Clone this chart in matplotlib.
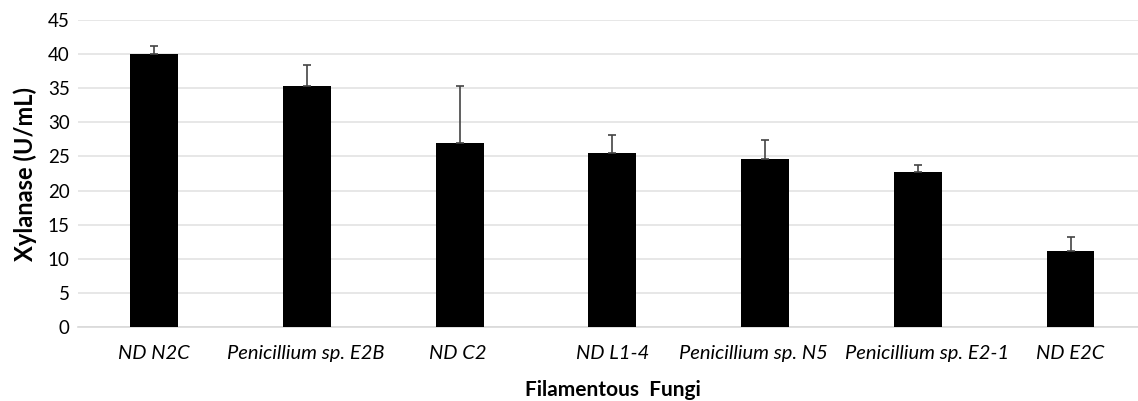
import matplotlib.pyplot as plt
from matplotlib.transforms import ScaledTranslation

fungi = ['ND N2C', 'Penicillium sp. E2B', 'ND C2', 'ND L1-4',
         'Penicillium sp. N5', 'Penicillium sp. E2-1', 'ND E2C']
xylanase = [40.0, 35.4, 27.0, 25.5, 24.6, 22.7, 11.2]
sd = [1.2, 3.0, 8.4, 2.6, 2.8, 1.0, 2.0]
yticks = [0, 5, 10, 15, 20, 25, 30, 35, 40, 45]

plt.rcParams['font.family'] = ['Lato', 'DejaVu Sans']

fig = plt.figure(figsize=(11.38, 4.01), dpi=100)
ax = fig.add_axes([0.0685, 0.1845, 0.9393, 0.7655])

x = list(range(len(fungi)))
ax.bar(x, xylanase, width=0.314, color='black', zorder=3)
ax.errorbar(x, xylanase, yerr=[[0] * len(sd), sd], fmt='none',
            ecolor='#444444', elinewidth=1.2, capsize=3, capthick=1.2, zorder=4)

ax.set_xlim(-0.5, len(fungi) - 0.5)
ax.set_ylim(0, 45)
ax.set_yticks(yticks)
ax.tick_params(axis='y', labelsize=13.5, length=0, pad=6)
ax.set_xticks(x)
ax.set_xticklabels(fungi, fontsize=14.5, style='italic')
ax.tick_params(axis='x', length=0, pad=13)

# excel nudged a few labels sideways so they don't collide
shifts = [0, -1.5, -2, 0, -12, 9, 0]
for lab, dx in zip(ax.get_xticklabels(), shifts):
    lab.set_transform(lab.get_transform() + ScaledTranslation(dx / 100, 0, fig.dpi_scale_trans))

ax.grid(axis='y', color='#e3e3e3', linewidth=1.2, zorder=0)
for s in ['top', 'right', 'left']:
    ax.spines[s].set_visible(False)
ax.spines['bottom'].set_color('#d9d9d9')
ax.spines['bottom'].set_linewidth(1.2)

ax.set_ylabel('Xylanase (U/mL)', fontsize=17, fontweight='bold', labelpad=8)
ax.set_xlabel('Filamentous  Fungi', fontsize=15, fontweight='bold', labelpad=13)

plt.savefig('out.png', dpi=100)
